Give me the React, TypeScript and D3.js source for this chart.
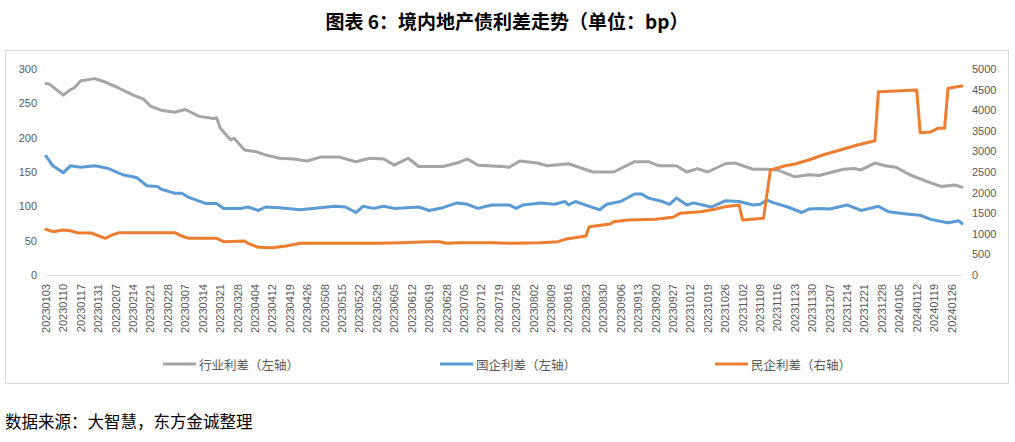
import React from "react";
import * as d3 from "d3";

const xLabels = [
  "20230103","20230110","20230117","20230131","20230207","20230214","20230221","20230228","20230307","20230314",
  "20230321","20230328","20230404","20230412","20230419","20230426","20230508","20230515","20230522","20230529",
  "20230605","20230612","20230619","20230628","20230705","20230712","20230719","20230726","20230802","20230809",
  "20230816","20230823","20230830","20230906","20230913","20230920","20230927","20231012","20231019","20231026",
  "20231102","20231109","20231116","20231123","20231130","20231207","20231214","20231221","20231228","20240105",
  "20240112","20240119","20240126",
];
const totalDays = 264;
const labelStep = 5;

const leftTicks = [0, 50, 100, 150, 200, 250, 300];
const rightTicks = [0, 500, 1000, 1500, 2000, 2500, 3000, 3500, 4000, 4500, 5000];

// 行业利差 (left axis): [trading-day index, bp]
const industryDays = [0,1,5,7,8,10,14,17,21,25,28,30,33,37,40,44,48,49,50,53,54,57,60,63,67,71,75,79,84,89,93,97,100,102,104,107,114,118,121,124,131,133,136,141,144,150,157,163,169,173,176,181,184,187,190,195,198,203,207,210,215,219,222,225,229,232,234,238,241,244,248,253,257,261,263];
const industryVals = [279,278,262,270,272,283,286,281,272,262,256,246,240,237,241,231,228,229,214,197,199,182,180,175,170,169,166,172,172,165,170,169,160,165,170,158,158,163,169,160,158,157,166,163,159,162,150,150,165,165,159,159,150,155,150,162,163,154,154,153,143,146,145,149,154,155,153,163,159,157,146,136,129,131,128];

// 国企利差 (left axis)
const soeDays = [0,2,5,7,10,14,18,22,26,29,32,33,37,39,41,46,49,51,56,58,61,63,67,73,83,86,89,91,94,97,100,107,110,114,118,121,124,128,133,135,137,142,146,149,150,152,156,159,161,165,169,171,173,177,179,181,184,186,191,195,199,203,205,207,209,213,217,219,222,225,230,234,239,242,247,251,254,259,262,263];
const soeVals = [173,159,149,159,157,159,155,146,142,130,129,125,119,119,113,104,104,97,97,99,94,99,98,95,100,99,91,100,97,100,97,99,94,98,105,103,97,102,102,97,102,105,103,107,102,107,100,95,103,107,118,118,112,107,103,112,102,105,99,108,107,102,103,109,105,99,91,96,97,96,102,94,100,92,89,87,81,76,79,75];

// 民企利差 (right axis)
const privateDays = [0,2,5,7,9,13,17,19,21,37,39,41,49,51,57,58,61,65,69,73,95,102,110,113,115,119,128,134,142,147,149,155,156,162,163,167,175,180,182,188,192,195,199,200,206,208,212,215,219,223,228,233,238,239,244,250,251,254,256,258,259,263];
const privateVals = [1109,1051,1092,1075,1027,1019,890,971,1027,1027,946,890,890,809,825,769,672,660,704,769,769,785,809,809,769,785,785,769,785,809,866,946,1173,1238,1294,1335,1351,1400,1497,1537,1594,1659,1699,1335,1375,2548,2645,2694,2791,2912,3034,3155,3260,4449,4465,4490,3454,3470,3560,3560,4531,4587];

const seriesNames = ["行业利差（左轴）", "国企利差（左轴）", "民企利差（右轴）"];
const seriesColors = ["#A5A5A5", "#5B9BD5", "#ED7D31"];

const title = "图表 6：境内地产债利差走势（单位：bp）";
const source = "数据来源：大智慧，东方金诚整理";

const W = 1015;
const H = 442;
const FONT = "'Liberation Sans', 'Noto Sans CJK SC', sans-serif";
const CJK = "'Noto Sans CJK SC', sans-serif";

export default function App() {
  const x = d3.scaleLinear().domain([0, totalDays - 1]).range([46, 962]);
  const yL = d3.scaleLinear().domain([0, 300]).range([275, 69]);
  const yR = d3.scaleLinear().domain([0, 5000]).range([275, 69]);

  const mk = (days: number[], vals: number[]) => days.map((d, i) => [d, vals[i]] as [number, number]);
  const lineL = d3.line<[number, number]>().x((p) => x(p[0])).y((p) => yL(p[1]));
  const lineR = d3.line<[number, number]>().x((p) => x(p[0])).y((p) => yR(p[1]));

  const paths = [
    lineL(mk(industryDays, industryVals)),
    lineL(mk(soeDays, soeVals)),
    lineR(mk(privateDays, privateVals)),
  ];

  const legendX = [163, 440, 715];

  return (
    <svg width={W} height={H} style={{ position: "absolute", left: 0, top: 0, background: "#fff" }}>
      <rect x={0} y={0} width={W} height={H} fill="#fff" />
      <text x={507} y={20} textAnchor="middle" dominantBaseline="central" fontFamily={CJK} fontWeight="bold" fontSize={19} fill="#000">
        {title}
      </text>
      <rect x={5.5} y={50.5} width={1003} height={333} fill="none" stroke="#D9D9D9" />
      <line x1={x(0)} x2={x(totalDays - 1)} y1={yL(0) + 0.5} y2={yL(0) + 0.5} stroke="#D9D9D9" strokeWidth={1} />
      {leftTicks.map((t) => (
        <text key={"l" + t} x={37} y={yL(t)} textAnchor="end" dominantBaseline="central" fontFamily={FONT} fontSize={11} fill="#595959">
          {t}
        </text>
      ))}
      {rightTicks.map((t) => (
        <text key={"r" + t} x={972} y={yR(t)} textAnchor="start" dominantBaseline="central" fontFamily={FONT} fontSize={11} fill="#595959">
          {t}
        </text>
      ))}
      {xLabels.map((lab, i) => (
        <text
          key={lab}
          transform={`translate(${x(i * labelStep)},${284}) rotate(-90)`}
          textAnchor="end"
          dominantBaseline="central"
          fontFamily={FONT}
          fontSize={11}
          fill="#595959"
        >
          {lab}
        </text>
      ))}
      {paths.map((p, i) => (
        <path key={i} d={p || ""} fill="none" stroke={seriesColors[i]} strokeWidth={3} strokeLinejoin="round" strokeLinecap="round" />
      ))}
      {seriesNames.map((n, i) => (
        <g key={n}>
          <line x1={legendX[i]} x2={legendX[i] + 33} y1={364} y2={364} stroke={seriesColors[i]} strokeWidth={3} />
          <text x={legendX[i] + 36} y={364} dominantBaseline="central" fontFamily={CJK} fontSize={12.5} fill="#595959">
            {n}
          </text>
        </g>
      ))}
      <text x={5} y={421} dominantBaseline="central" fontFamily={CJK} fontSize={16.5} fill="#000">
        {source}
      </text>
    </svg>
  );
}
